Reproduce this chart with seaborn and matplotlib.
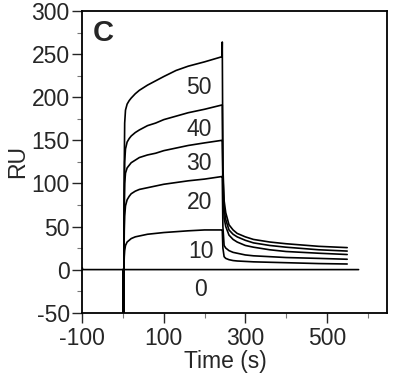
import matplotlib
matplotlib.use("Agg")
import matplotlib.pyplot as plt
from matplotlib.ticker import MultipleLocator, FixedLocator
import seaborn as sns
import pandas as pd

# ---- data ----
concentrations = [50, 40, 30, 20, 10]
t_assoc = [0, 1, 2, 3, 4, 6, 10, 15, 20, 30, 40, 60, 80, 100, 130, 160, 200, 243]
t_dissoc = [243.5, 245, 248, 252, 260, 270, 280, 300, 320, 360, 400, 480, 550]

ru_50 = [0, -55, 0, 120, 170, 185, 192, 196, 199, 204, 208, 214, 219, 224, 231, 236, 241, 247,
         264, 120, 80, 66, 52, 46, 42, 38, 35, 32, 30, 27, 25.5]
ru_40 = [0, -55, 0, 90, 125, 140, 148, 152, 155, 159, 162, 167, 170, 174, 178, 182, 186, 191,
         191, 110, 70, 58, 46, 41, 38, 34, 31, 28, 26, 23, 21.5]
ru_30 = [0, -55, 0, 70, 100, 112, 118, 121, 124, 127, 130, 133, 135, 138, 141, 144, 147, 150,
         150, 95, 60, 50, 40, 35, 32, 28, 26, 23, 21, 19, 17.5]
ru_20 = [0, -55, 0, 45, 62, 74, 81, 85, 88, 91, 93, 95, 97, 99, 101, 103, 105, 108,
         108, 50, 28, 25, 22, 20, 19, 17, 16, 15, 14, 13, 12]
ru_10 = [0, -55, 0, 15, 22, 28, 32, 34, 36, 38, 39, 41, 42, 43, 44, 45, 46, 46,
         46, 25, 15, 13, 11.5, 10.5, 10, 9.5, 9, 8.5, 8, 7, 6.5]

t_zero = [-100, -99, 0, 578]
ru_zero = [2, 0, 0, 0]

label_text = ["50", "40", "30", "20", "10", "0"]
label_t = [186, 186, 186, 188, 191, 191]
label_ru = [211, 162, 123, 78, 21, -23]

# ---- build long table ----
rows = []
for c, vals in zip(concentrations, [ru_50, ru_40, ru_30, ru_20, ru_10]):
    for t, v in zip(t_assoc + t_dissoc, vals):
        rows.append({"t": t, "ru": v, "conc": str(c)})
for t, v in zip(t_zero, ru_zero):
    rows.append({"t": t, "ru": v, "conc": "0"})
df = pd.DataFrame(rows)

sns.set_style("ticks")
plt.rcParams['font.family'] = ['Liberation Sans', 'DejaVu Sans']
plt.rcParams['axes.unicode_minus'] = False

fig = plt.figure(figsize=(3.93, 3.77), dpi=100)
ax = fig.add_axes([82.3 / 393, 1 - 312.7 / 377, (386.7 - 82.3) / 393, (312.7 - 11) / 377])

pal = {k: "black" for k in df["conc"].unique()}
sns.lineplot(data=df, x="t", y="ru", hue="conc", palette=pal, estimator=None,
             sort=False, legend=False, linewidth=1.2, ax=ax)

ax.set_xlim(-100, 647)
ax.set_ylim(-50, 300)
ax.xaxis.set_major_locator(FixedLocator([-100, 100, 300, 500]))
ax.xaxis.set_minor_locator(FixedLocator([0, 200, 400, 600]))
ax.yaxis.set_major_locator(MultipleLocator(50))
ax.yaxis.set_minor_locator(MultipleLocator(25))
ax.tick_params(which="major", direction="out", length=7, width=1, labelsize=16.5, pad=2)
ax.tick_params(axis="x", which="major", pad=3)
ax.tick_params(which="minor", direction="out", length=3.5, width=0.8, color="#777777")
for s in ax.spines.values():
    s.set_linewidth(1.3)
    s.set_color("black")

ax.set_xlabel("Time (s)", fontsize=16.5)
ax.set_ylabel("RU", fontsize=16.5, labelpad=2)
ax.xaxis.set_label_coords(0.469, -0.122, transform=ax.transAxes)

for txt, tx, ty in zip(label_text, label_t, label_ru):
    ax.text(tx, ty, txt, fontsize=16.5, ha="center", va="center")

ax.text(-48, 275, "C", fontsize=21, fontweight="bold", ha="center", va="center")

fig.savefig("out.png", dpi=100)
